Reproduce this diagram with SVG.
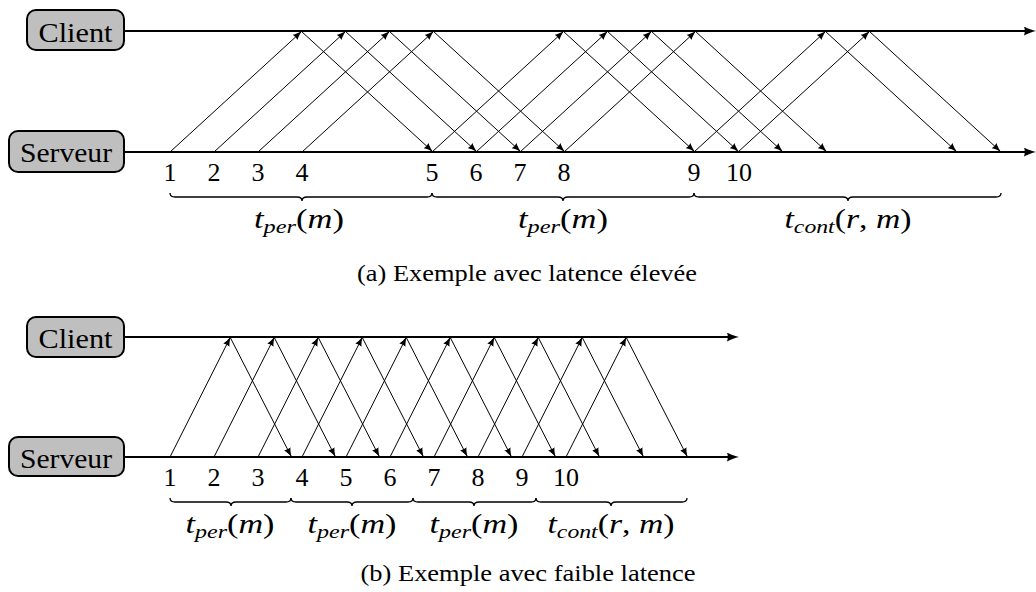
<svg xmlns="http://www.w3.org/2000/svg" width="1036" height="592" viewBox="0 0 1036 592">
<style>
.bg{fill:#fff}
.box{fill:#bfbfbf;stroke:#000;stroke-width:2}
.tl{stroke:#000;stroke-width:2.2;fill:none;marker-end:url(#big)}
.msg{stroke:#000;stroke-width:1;fill:none;marker-end:url(#ah)}
.brace{stroke:#000;stroke-width:1.3;fill:none}
</style>
<defs>
<marker id="ah" viewBox="0 0 9 7" refX="8" refY="3.5" markerWidth="9" markerHeight="7" markerUnits="userSpaceOnUse" orient="auto">
<path d="M9,3.5 C6,4.3 2,5.6 0,7 Q1.3,3.5 0,0 C2,1.4 6,2.7 9,3.5 z" fill="#000"/>
</marker>
<marker id="big" viewBox="0 0 12 9" refX="6" refY="4.5" markerWidth="12" markerHeight="9" markerUnits="userSpaceOnUse" orient="auto">
<path d="M12,4.5 C8,5.5 3,7.2 0,9 Q1.6,4.5 0,0 C3,1.8 8,3.5 12,4.5 z" fill="#000"/>
</marker>
</defs>
<rect class="bg" x="0" y="0" width="1036" height="592"/>

<g id="connectors">
<g id="timelines">
<path class="tl" d="M124 31 H1030"/>
<path class="tl" d="M124 152 H1030"/>
<path class="tl" d="M124 337 H733"/>
<path class="tl" d="M124 457 H733"/>
</g>
<g id="messages-a">
<path class="msg" d="M170 152 L301 32"/>
<path class="msg" d="M214 152 L345 32"/>
<path class="msg" d="M258 152 L389 32"/>
<path class="msg" d="M302 152 L433 32"/>
<path class="msg" d="M432 152 L563 32"/>
<path class="msg" d="M476 152 L607 32"/>
<path class="msg" d="M520 152 L651 32"/>
<path class="msg" d="M564 152 L695 32"/>
<path class="msg" d="M694 152 L825 32"/>
<path class="msg" d="M738 152 L869 32"/>
<path class="msg" d="M301 31 L432 151"/>
<path class="msg" d="M345 31 L476 151"/>
<path class="msg" d="M389 31 L520 151"/>
<path class="msg" d="M433 31 L564 151"/>
<path class="msg" d="M563 31 L694 151"/>
<path class="msg" d="M607 31 L738 151"/>
<path class="msg" d="M651 31 L782 151"/>
<path class="msg" d="M695 31 L826 151"/>
<path class="msg" d="M825 31 L956 151"/>
<path class="msg" d="M869 31 L1000 151"/>
</g>
<g id="messages-b">
<path class="msg" d="M170 457 L230 338"/>
<path class="msg" d="M214 457 L274 338"/>
<path class="msg" d="M258 457 L318 338"/>
<path class="msg" d="M302 457 L362 338"/>
<path class="msg" d="M346 457 L406 338"/>
<path class="msg" d="M390 457 L450 338"/>
<path class="msg" d="M434 457 L494 338"/>
<path class="msg" d="M478 457 L538 338"/>
<path class="msg" d="M522 457 L582 338"/>
<path class="msg" d="M566 457 L626 338"/>
<path class="msg" d="M230 337 L291 456"/>
<path class="msg" d="M274 337 L335 456"/>
<path class="msg" d="M318 337 L379 456"/>
<path class="msg" d="M362 337 L423 456"/>
<path class="msg" d="M406 337 L467 456"/>
<path class="msg" d="M450 337 L511 456"/>
<path class="msg" d="M494 337 L555 456"/>
<path class="msg" d="M538 337 L599 456"/>
<path class="msg" d="M582 337 L643 456"/>
<path class="msg" d="M626 337 L687 456"/>
</g>
</g>

<g font-family="Liberation Serif, serif" fill="#000">
<g font-size="28" text-anchor="middle">
<g id="client-a">
<rect class="box" x="27" y="10" width="97" height="40" rx="9"/>
<text x="75.5" y="42" textLength="74" lengthAdjust="spacingAndGlyphs">Client</text>
</g>
<g id="server-a">
<rect class="box" x="9" y="131" width="115" height="41" rx="9"/>
<text x="66" y="162" textLength="92" lengthAdjust="spacingAndGlyphs">Serveur</text>
</g>
<g id="client-b">
<rect class="box" x="27" y="317" width="97" height="40" rx="9"/>
<text x="75.5" y="348" textLength="74" lengthAdjust="spacingAndGlyphs">Client</text>
</g>
<g id="server-b">
<rect class="box" x="9" y="437" width="115" height="39" rx="9"/>
<text x="66" y="468" textLength="92" lengthAdjust="spacingAndGlyphs">Serveur</text>
</g>
</g>

<g id="numbers-a" font-size="26" text-anchor="middle">
<text x="170" y="181">1</text>
<text x="214" y="181">2</text>
<text x="258" y="181">3</text>
<text x="302" y="181">4</text>
<text x="432" y="181">5</text>
<text x="476" y="181">6</text>
<text x="520" y="181">7</text>
<text x="564" y="181">8</text>
<text x="694" y="181">9</text>
<text x="739" y="181">10</text>
</g>
<g id="braces-a" font-size="27" text-anchor="middle">
<path class="brace" d="M170 193 q0 4 5 4 H297 q5 0 5 4 q0 -4 5 -4 H427 q5 0 5 -4"/>
<path class="brace" d="M432 193 q0 4 5 4 H558 q5 0 5 4 q0 -4 5 -4 H689 q5 0 5 -4"/>
<path class="brace" d="M694 193 q0 4 5 4 H843 q5 0 5 4 q0 -4 5 -4 H996 q5 0 5 -4"/>
<text x="299" y="228" textLength="90" lengthAdjust="spacingAndGlyphs"><tspan font-style="italic">t</tspan><tspan font-style="italic" font-size="19" dy="5">per</tspan><tspan dy="-5">(</tspan><tspan font-style="italic">m</tspan>)</text>
<text x="563" y="228" textLength="90" lengthAdjust="spacingAndGlyphs"><tspan font-style="italic">t</tspan><tspan font-style="italic" font-size="19" dy="5">per</tspan><tspan dy="-5">(</tspan><tspan font-style="italic">m</tspan>)</text>
<text x="848" y="228" textLength="127" lengthAdjust="spacingAndGlyphs"><tspan font-style="italic">t</tspan><tspan font-style="italic" font-size="19" dy="5">cont</tspan><tspan dy="-5">(</tspan><tspan font-style="italic">r</tspan>, <tspan font-style="italic">m</tspan>)</text>
</g>
<text id="caption-a" font-size="23" text-anchor="middle" x="527" y="281" textLength="340" lengthAdjust="spacingAndGlyphs">(a) Exemple avec latence élevée</text>

<g id="numbers-b" font-size="26" text-anchor="middle">
<text x="170" y="486">1</text>
<text x="214" y="486">2</text>
<text x="258" y="486">3</text>
<text x="302" y="486">4</text>
<text x="346" y="486">5</text>
<text x="390" y="486">6</text>
<text x="434" y="486">7</text>
<text x="478" y="486">8</text>
<text x="522" y="486">9</text>
<text x="566" y="486">10</text>
</g>
<g id="braces-b" font-size="27" text-anchor="middle">
<path class="brace" d="M170 498 q0 4 5 4 H226 q5 0 5 4 q0 -4 5 -4 H286 q5 0 5 -4"/>
<path class="brace" d="M291 498 q0 4 5 4 H347 q5 0 5 4 q0 -4 5 -4 H408 q5 0 5 -4"/>
<path class="brace" d="M413 498 q0 4 5 4 H469 q5 0 5 4 q0 -4 5 -4 H531 q5 0 5 -4"/>
<path class="brace" d="M536 498 q0 4 5 4 H606 q5 0 5 4 q0 -4 5 -4 H682 q5 0 5 -4"/>
<text x="230" y="533" textLength="89" lengthAdjust="spacingAndGlyphs"><tspan font-style="italic">t</tspan><tspan font-style="italic" font-size="19" dy="5">per</tspan><tspan dy="-5">(</tspan><tspan font-style="italic">m</tspan>)</text>
<text x="352" y="533" textLength="89" lengthAdjust="spacingAndGlyphs"><tspan font-style="italic">t</tspan><tspan font-style="italic" font-size="19" dy="5">per</tspan><tspan dy="-5">(</tspan><tspan font-style="italic">m</tspan>)</text>
<text x="474" y="533" textLength="89" lengthAdjust="spacingAndGlyphs"><tspan font-style="italic">t</tspan><tspan font-style="italic" font-size="19" dy="5">per</tspan><tspan dy="-5">(</tspan><tspan font-style="italic">m</tspan>)</text>
<text x="611" y="533" textLength="127" lengthAdjust="spacingAndGlyphs"><tspan font-style="italic">t</tspan><tspan font-style="italic" font-size="19" dy="5">cont</tspan><tspan dy="-5">(</tspan><tspan font-style="italic">r</tspan>, <tspan font-style="italic">m</tspan>)</text>
</g>
<text id="caption-b" font-size="23" text-anchor="middle" x="528" y="581" textLength="335" lengthAdjust="spacingAndGlyphs">(b) Exemple avec faible latence</text>
</g>
</svg>
